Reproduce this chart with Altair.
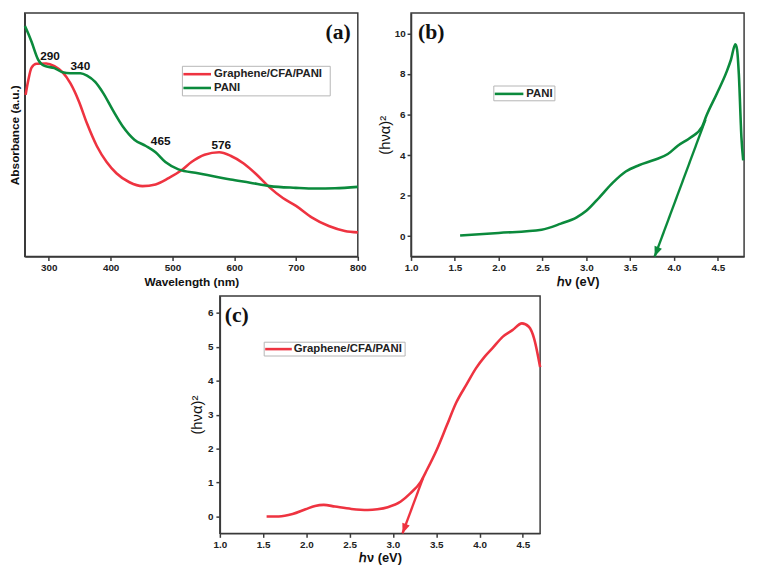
import altair as alt
import pandas as pd

RED = "#ee3340"
GREEN = "#0b8a3c"
SANS = "Liberation Sans"
SERIF = "Liberation Serif"
AXIS_COLOR = "#3a3a3a"

series_names = ["Graphene/CFA/PANI", "PANI"]

# ---------------- panel (a): UV-vis absorbance ----------------
red_wl = [262.4, 266.7, 272, 280, 295.7, 309, 322, 335, 348.5, 361.8, 377.6, 393.5,
          409.3, 430.4, 451.5, 472.7, 493.8, 515, 530.8, 552, 575.7, 594, 615.3,
          636.5, 657.6, 678.7, 700, 726, 753, 779, 800]
red_abs = [0.664, 0.724, 0.776, 0.792, 0.793, 0.782, 0.757, 0.711, 0.638, 0.546, 0.454, 0.388,
           0.342, 0.305, 0.289, 0.296, 0.322, 0.355, 0.388, 0.418, 0.428, 0.414, 0.382,
           0.336, 0.283, 0.240, 0.208, 0.160, 0.125, 0.105, 0.099]
green_wl = [261.3, 267, 272, 282.6, 293, 309, 322, 335, 351, 361.8, 375, 388, 404, 420,
            438.4, 457, 472.7, 488.6, 509.7, 541.4, 594, 625.8, 657.5, 699.7, 731.4, 763, 800]
green_abs = [0.947, 0.914, 0.882, 0.809, 0.783, 0.774, 0.757, 0.753, 0.753, 0.743, 0.717, 0.671,
             0.599, 0.533, 0.480, 0.454, 0.428, 0.388, 0.358, 0.342, 0.316, 0.303, 0.289,
             0.282, 0.279, 0.280, 0.286]
peak_labels = ["290", "340", "465", "576"]
peak_wl = [302, 351, 481, 579]
peak_abs = [0.825, 0.783, 0.474, 0.458]

# ---------------- panel (b): PANI Tauc plot ----------------
pani_hv = [1.56, 2.0, 2.49, 2.71, 2.89, 3.0, 3.15, 3.3, 3.45, 3.6, 3.78, 3.93, 4.04,
           4.19, 4.32, 4.37, 4.49, 4.60, 4.65, 4.70, 4.72, 4.74, 4.77, 4.79]
pani_val = [0.03, 0.16, 0.32, 0.62, 0.93, 1.25, 1.92, 2.63, 3.19, 3.5, 3.77, 4.05, 4.45,
            4.87, 5.39, 5.94, 7.04, 8.1, 8.7, 9.46, 9.2, 8.0, 4.85, 3.74]
pani_tangent_hv = [3.78, 4.36]
pani_tangent_val = [-1.0, 5.75]

# ---------------- panel (c): Graphene/CFA/PANI Tauc plot ----------------
comp_hv = [1.54, 1.68, 1.84, 1.99, 2.10, 2.20, 2.33, 2.52, 2.71, 2.82, 2.94, 3.09, 3.20,
           3.32, 3.39, 3.51, 3.62, 3.73, 3.85, 3.96, 4.06, 4.15, 4.27, 4.38, 4.49, 4.57,
           4.63, 4.70]
comp_val = [0.0, 0.0, 0.07, 0.21, 0.31, 0.34, 0.29, 0.22, 0.19, 0.21, 0.27, 0.44, 0.68,
            1.02, 1.36, 1.99, 2.67, 3.35, 3.89, 4.37, 4.71, 4.96, 5.30, 5.49, 5.69, 5.59,
            5.25, 4.40]
comp_tangent_hv = [3.11, 3.35]
comp_tangent_val = [-0.5, 1.15]

# tick values
xa_ticks = [300, 350, 400, 450, 500, 550, 600, 650, 700, 750, 800]
xb_ticks = [1.0, 1.25, 1.5, 1.75, 2.0, 2.25, 2.5, 2.75, 3.0, 3.25, 3.5, 3.75, 4.0, 4.25, 4.5, 4.75]
xc_ticks = [1.0, 1.25, 1.5, 1.75, 2.0, 2.25, 2.5, 2.75, 3.0, 3.25, 3.5, 3.75, 4.0, 4.25, 4.5]
yb_ticks = [0, 1, 2, 3, 4, 5, 6, 7, 8, 9, 10]
yc_ticks = [0, 0.5, 1, 1.5, 2, 2.5, 3, 3.5, 4, 4.5, 5, 5.5, 6]

HALF_TEST = "abs(datum.value * 2 - round(datum.value * 2)) < 0.001"
INT_TEST = "abs(datum.value - round(datum.value)) < 0.001"

ARROW = "M0,0 L-0.4,-1 L0.4,-1 Z"


def axis(title, values, fmt, major_test, **kw):
    opts = dict(
        title=title, values=values, format=fmt,
        labelExpr="(" + major_test + ") ? datum.label : ''",
        tickSize=4,
        labelFlush=False, labelOverlap=False, grid=False,
        domainColor=AXIS_COLOR, domainWidth=1.5, tickColor=AXIS_COLOR, tickWidth=1.5,
        labelFont=SANS, labelFontWeight="bold", labelFontSize=10, labelColor="#222",
        labelPadding=2, titleFont=SANS, titleFontWeight="bold", titleFontSize=13,
        titleColor="#111", titlePadding=3,
    )
    opts.update(kw)
    return alt.Axis(**opts)


one = pd.DataFrame({"k": [0]})


def legend_layers(names, colors, box, line_x, text_x, row_y):
    layers = [alt.Chart(one).mark_rect(fill="white", stroke="#b5b5b5", strokeWidth=1).encode(
        x=alt.value(box[0]), x2=alt.value(box[1]), y=alt.value(box[2]), y2=alt.value(box[3]))]
    for name, col, yy in zip(names, colors, row_y):
        d = pd.DataFrame({"series": [name]})
        layers.append(alt.Chart(d).mark_rule(color=col, strokeWidth=2.6).encode(
            x=alt.value(line_x[0]), x2=alt.value(line_x[1]), y=alt.value(yy)))
        layers.append(alt.Chart(d).mark_text(align="left", baseline="middle", font=SANS,
                                             fontWeight="bold", fontSize=11.5, color="#222").encode(
            x=alt.value(text_x), y=alt.value(yy), text="series:N"))
    return layers


def panel_label(txt, x, align="center"):
    return alt.Chart(one).mark_text(text=txt, font=SERIF, fontWeight="bold", fontSize=22,
                                    align=align, baseline="middle", color="#111").encode(
        x=alt.value(x), y=alt.value(19))


VIEW = alt.ViewBackground(stroke=AXIS_COLOR, strokeWidth=1.5)
H_TOP = 247

# ---- (a)
df_a = pd.DataFrame({
    "wl": red_wl + green_wl,
    "abs": red_abs + green_abs,
    "series": [series_names[0]] * len(red_wl) + [series_names[1]] * len(green_wl),
})
xa = alt.X("wl:Q", scale=alt.Scale(domain=[261, 800], nice=False, zero=False),
           axis=axis("Wavelength (nm)", xa_ticks, "d", "datum.value % 100 == 0",
                     titleFontSize=12, titlePadding=4))
ya = alt.Y("abs:Q", scale=alt.Scale(domain=[0, 1], nice=False),
           axis=alt.Axis(title="Absorbance (a.u.)", labels=False, ticks=False, grid=False,
                         domainColor=AXIS_COLOR, domainWidth=1.5, titleFont=SANS,
                         titleFontWeight="bold", titleFontSize=12, titleColor="#111",
                         titlePadding=3))
lines_a = alt.Chart(df_a).mark_line(strokeWidth=2.6, interpolate="monotone").encode(
    x=xa, y=ya,
    color=alt.Color("series:N", scale=alt.Scale(domain=series_names, range=[RED, GREEN]),
                    legend=None))
peaks_a = alt.Chart(pd.DataFrame({"wl": peak_wl, "abs": peak_abs, "label": peak_labels})).mark_text(
    font=SANS, fontWeight="bold", fontSize=12, color="#111").encode(
    x="wl:Q", y="abs:Q", text="label:N")
panel_a = alt.layer(
    lines_a, peaks_a,
    *legend_layers(series_names, [RED, GREEN], (160, 310, 54, 84), (161, 189), 192, (62, 76)),
    panel_label("(a)", 318),
).properties(width=338, height=H_TOP, view=VIEW)

# ---- (b)
xb = alt.X("hv:Q", scale=alt.Scale(domain=[1.0, 4.8], nice=False, zero=False),
           axis=axis("ℎν (eV)", xb_ticks, ".1f", HALF_TEST))
yb = alt.Y("val:Q", scale=alt.Scale(domain=[-1, 11], nice=False, zero=False),
           axis=axis("(hνα)²", yb_ticks, "d", "datum.value % 2 == 0",
                     titleFontWeight="normal", titleFontSize=15, titlePadding=2))
lines_b = alt.Chart(pd.DataFrame({"hv": pani_hv, "val": pani_val})).mark_line(
    strokeWidth=2.6, interpolate="monotone", color=GREEN).encode(x=xb, y=yb)
tan_b = alt.Chart(pd.DataFrame({"hv": pani_tangent_hv, "val": pani_tangent_val})).mark_line(
    strokeWidth=2.4, color=GREEN).encode(x="hv:Q", y="val:Q")
arrow_b = alt.Chart(pd.DataFrame({"hv": pani_tangent_hv[:1], "val": pani_tangent_val[:1]})).mark_point(
    shape=ARROW, filled=True, size=400, angle=21, color=GREEN, opacity=1).encode(x="hv:Q", y="val:Q")
panel_b = alt.layer(
    lines_b, tan_b, arrow_b,
    *legend_layers(series_names[1:], [GREEN], (84, 146, 74, 89), (85, 114), 117, (82,)),
    panel_label("(b)", 7, align="left"),
).properties(width=338, height=H_TOP, view=VIEW)

# ---- (c)
xc = alt.X("hv:Q", scale=alt.Scale(domain=[1.0, 4.7], nice=False, zero=False),
           axis=axis("ℎν (eV)", xc_ticks, ".1f", HALF_TEST))
yc = alt.Y("val:Q", scale=alt.Scale(domain=[-0.5, 6.5], nice=False, zero=False),
           axis=axis("(hνα)²", yc_ticks, ".1f", INT_TEST,
                     labelExpr="(" + INT_TEST + ") ? format(datum.value, 'd') : ''",
                     titleFontWeight="normal", titleFontSize=15, titlePadding=3, labelPadding=3))
lines_c = alt.Chart(pd.DataFrame({"hv": comp_hv, "val": comp_val})).mark_line(
    strokeWidth=2.6, interpolate="monotone", color=RED).encode(x=xc, y=yc)
tan_c = alt.Chart(pd.DataFrame({"hv": comp_tangent_hv, "val": comp_tangent_val})).mark_line(
    strokeWidth=2.4, color=RED).encode(x="hv:Q", y="val:Q")
arrow_c = alt.Chart(pd.DataFrame({"hv": comp_tangent_hv[:1], "val": comp_tangent_val[:1]})).mark_point(
    shape=ARROW, filled=True, size=400, angle=21, color=RED, opacity=1).encode(x="hv:Q", y="val:Q")
panel_c = alt.layer(
    lines_c, tan_c, arrow_c,
    *legend_layers(series_names[:1], [RED], (45, 188, 47, 61), (46, 73), 75, (54,)),
    panel_label("(c)", 5, align="left"),
).properties(width=325, height=241, view=VIEW)

spacer = alt.Chart(one).mark_point(opacity=0).properties(
    width=166, height=20, view=alt.ViewBackground(strokeOpacity=0))

row1 = alt.hconcat(panel_a, panel_b, spacing=9)
row2 = alt.hconcat(spacer, panel_c, spacing=0)

chart = alt.vconcat(row1, row2, spacing=6).properties(padding=0).configure(
    font=SANS).configure_view(strokeWidth=0)

chart.save("out.html", embed_options={"renderer": "svg", "actions": False})
